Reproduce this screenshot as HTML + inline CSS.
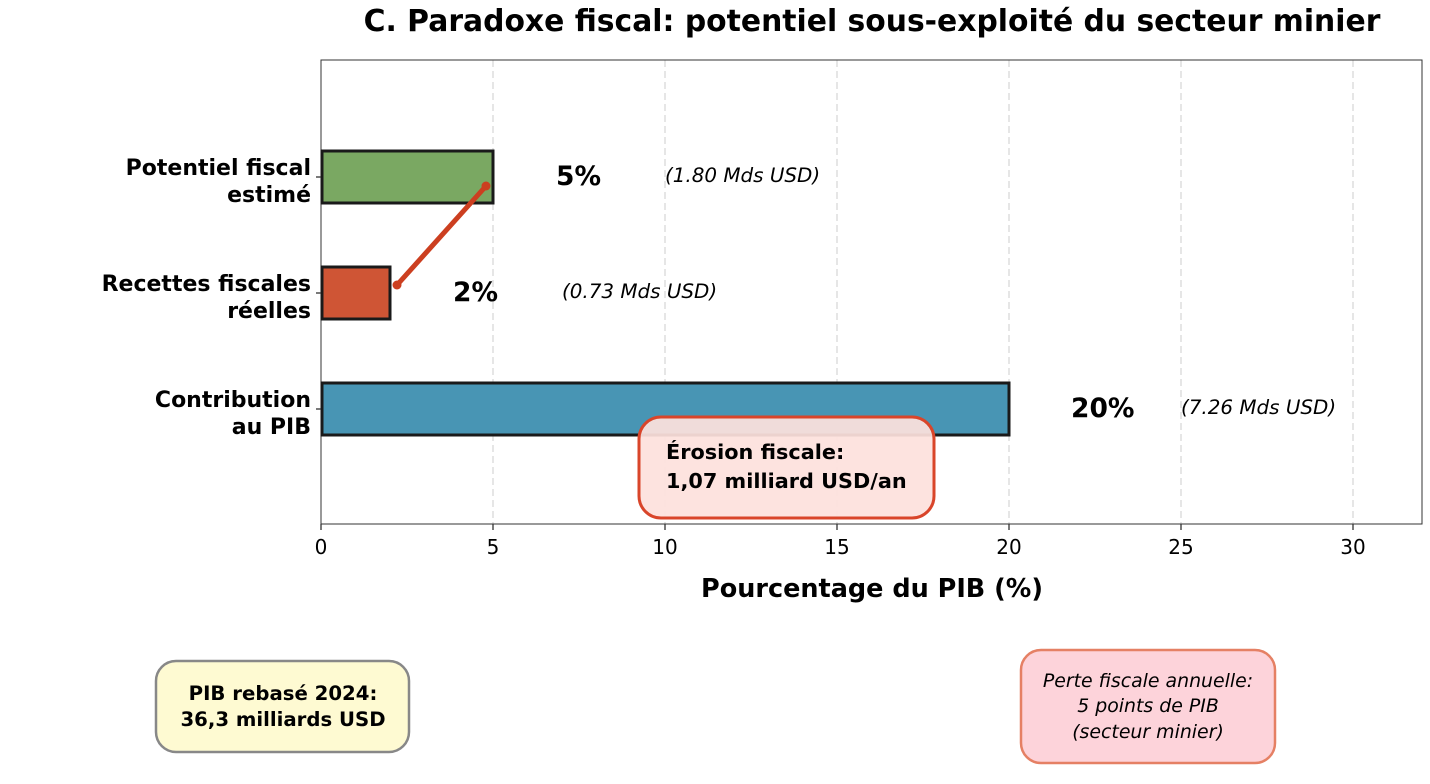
<!DOCTYPE html>
<html><head><meta charset="utf-8"><style>
html,body{margin:0;padding:0;background:#fff;}
svg{display:block;font-family:"DejaVu Sans","Liberation Sans",sans-serif;}
</style></head><body>
<svg width="1430" height="784" viewBox="0 0 1430 784" xmlns="http://www.w3.org/2000/svg">
<text x="872" y="31" text-anchor="middle" font-size="29.8" font-weight="bold" fill="#000">C. Paradoxe fiscal: potentiel sous-exploité du secteur minier</text>
<g stroke="#d9d9d9" stroke-width="1.3" stroke-dasharray="7,4">
<line x1="493" y1="60" x2="493" y2="524"/><line x1="665" y1="60" x2="665" y2="524"/>
<line x1="837" y1="60" x2="837" y2="524"/><line x1="1009" y1="60" x2="1009" y2="524"/>
<line x1="1181" y1="60" x2="1181" y2="524"/><line x1="1353" y1="60" x2="1353" y2="524"/>
</g>
<rect x="321" y="60" width="1101" height="464" fill="none" stroke="#333" stroke-width="1"/>
<rect x="322" y="151" width="171" height="52" fill="#7aa862" stroke="#1a1a1a" stroke-width="3"/>
<rect x="322" y="267" width="68" height="52" fill="#cf5535" stroke="#1a1a1a" stroke-width="3"/>
<rect x="322" y="383" width="687" height="52" fill="#4895b4" stroke="#1a1a1a" stroke-width="3"/>
<line x1="486" y1="186" x2="397" y2="285" stroke="#cc3f20" stroke-width="5" stroke-linecap="round"/>
<circle cx="486" cy="186" r="4.5" fill="#cc3f20"/><circle cx="397" cy="285" r="4.5" fill="#cc3f20"/>
<g font-size="26.5" font-weight="bold"><text x="556" y="185">5%</text><text x="453" y="301">2%</text><text x="1071" y="417">20%</text></g>
<g font-size="19.9" font-style="italic"><text x="665" y="182">(1.80 Mds USD)</text><text x="562" y="298">(0.73 Mds USD)</text><text x="1181" y="414">(7.26 Mds USD)</text></g>
<g font-size="22" font-weight="bold" text-anchor="end">
<text x="311" y="175">Potentiel fiscal</text><text x="311" y="202">estimé</text>
<text x="311" y="291">Recettes fiscales</text><text x="311" y="318">réelles</text>
<text x="311" y="407">Contribution</text><text x="311" y="434">au PIB</text>
</g>
<g stroke="#333" stroke-width="1.3"><line x1="316" y1="177" x2="321" y2="177"/><line x1="316" y1="293" x2="321" y2="293"/><line x1="316" y1="409" x2="321" y2="409"/>
<line x1="321" y1="524" x2="321" y2="530"/><line x1="493" y1="524" x2="493" y2="530"/><line x1="665" y1="524" x2="665" y2="530"/><line x1="837" y1="524" x2="837" y2="530"/><line x1="1009" y1="524" x2="1009" y2="530"/><line x1="1181" y1="524" x2="1181" y2="530"/><line x1="1353" y1="524" x2="1353" y2="530"/></g>
<g font-size="20" text-anchor="middle"><text x="321" y="554">0</text><text x="493" y="554">5</text><text x="665" y="554">10</text><text x="837" y="554">15</text><text x="1009" y="554">20</text><text x="1181" y="554">25</text><text x="1353" y="554">30</text></g>
<text x="872" y="597" text-anchor="middle" font-size="25.5" font-weight="bold">Pourcentage du PIB (%)</text>
<rect x="639" y="417" width="295" height="101" rx="22" fill="#fde1dd" fill-opacity="0.93" stroke="#d9452a" stroke-width="3"/>
<g font-size="20.8" font-weight="bold"><text x="666" y="459">Érosion fiscale:</text><text x="666" y="488">1,07 milliard USD/an</text></g>
<rect x="156" y="661" width="253" height="91" rx="20" fill="#fefad2" stroke="#888" stroke-width="2.5"/>
<g font-size="19.7" font-weight="bold" text-anchor="middle"><text x="283" y="700">PIB rebasé 2024:</text><text x="283" y="726">36,3 milliards USD</text></g>
<rect x="1021" y="650" width="254" height="113" rx="20" fill="#fdd3da" stroke="#e58064" stroke-width="2.5"/>
<g font-size="18.9" font-style="italic" text-anchor="middle"><text x="1148" y="687">Perte fiscale annuelle:</text><text x="1148" y="712">5 points de PIB</text><text x="1148" y="738">(secteur minier)</text></g>
</svg>
</body></html>
